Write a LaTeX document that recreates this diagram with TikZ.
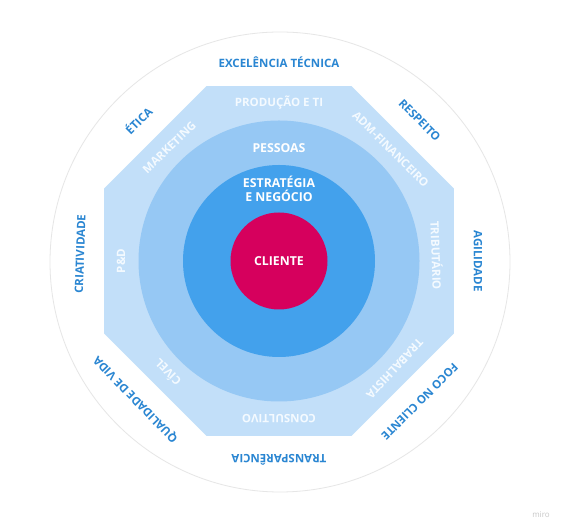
\documentclass[tikz,border=0pt]{standalone}
\usepackage{fontspec}
\setmainfont{Open Sans}
\usetikzlibrary{calc}
\definecolor{octc}{HTML}{C2DFF9}
\definecolor{midc}{HTML}{96C8F4}
\definecolor{innc}{HTML}{43A1EC}
\definecolor{clic}{HTML}{D6005D}
\definecolor{valblue}{HTML}{2A86D2}
\definecolor{deptc}{HTML}{F4FAFF}
\definecolor{ringgray}{HTML}{E6E6E6}
\definecolor{mirogray}{HTML}{C8C8C8}
\begin{document}
\begin{tikzpicture}[x=1pt,y=1pt,
  lbl/.style={font=\fontsize{11.5}{13}\selectfont\bfseries, inner sep=0},
  valtext/.style={lbl, text=valblue},
  depttext/.style={lbl, text=deptc},
  coretext/.style={font=\fontsize{12.3}{14}\selectfont\bfseries, inner sep=0, text=white, align=center}]
\useasboundingbox (0,0) rectangle (567,532);
\fill[white] (0,0) rectangle (567,532);
\coordinate (c) at (279,271);
\node[circle, draw=ringgray, line width=0.8pt, minimum size=460pt, inner sep=0] (outer) at (280,270) {};
\fill[octc] ($(c)+(22.5:189.4)$) -- ($(c)+(67.5:189.4)$) -- ($(c)+(112.5:189.4)$) -- ($(c)+(157.5:189.4)$)
  -- ($(c)+(202.5:189.4)$) -- ($(c)+(247.5:189.4)$) -- ($(c)+(292.5:189.4)$) -- ($(c)+(337.5:189.4)$) -- cycle;
\node[circle, fill=midc, minimum size=281pt, inner sep=0] (pessoasdisc) at (c) {};
\node[circle, fill=innc, minimum size=192pt, inner sep=0] (estdisc) at (c) {};
\node[circle, fill=clic, minimum size=97pt, inner sep=0] (cliente) at (c) {};
\node[coretext] (clientetxt) at (c) {CLIENTE};
\node[coretext] (estrategia) at ($(c)+(0,72)$) {ESTRATÉGIA\\[-0.5pt]E NEGÓCIO};
\node[coretext] (pessoas) at ($(c)+(0,113)$) {PESSOAS};
% departments
\foreach \t/\a/\n in {PRODUÇÃO E TI/90/d1, ADM-FINANCEIRO/45/d2, TRIBUTÁRIO/2/d3, TRABALHISTA/-43/d4,
  CONSULTIVO/270/d5, CÍVEL/225/d6, P\&D/180/d7, MARKETING/134/d8}
  \node[depttext, rotate=\a-90] (\n) at ($(c)+(\a:158)$) {\t};
% values
\foreach \t/\a/\n in {EXCELÊNCIA TÉCNICA/90/v1, RESPEITO/45/v2, AGILIDADE/0/v3, FOCO NO CLIENTE/-45/v4,
  TRANSPARÊNCIA/270/v5, QUALIDADE DE VIDA/224/v6, CRIATIVIDADE/178/v7, ÉTICA/135/v8}
  \node[valtext, rotate=\a-90] (\n) at ($(c)+(\a:199)$) {\t};
\node[font=\fontsize{8}{9}\selectfont, text=mirogray, inner sep=0] (miro) at (541,17) {miro};
\end{tikzpicture}
\end{document}
